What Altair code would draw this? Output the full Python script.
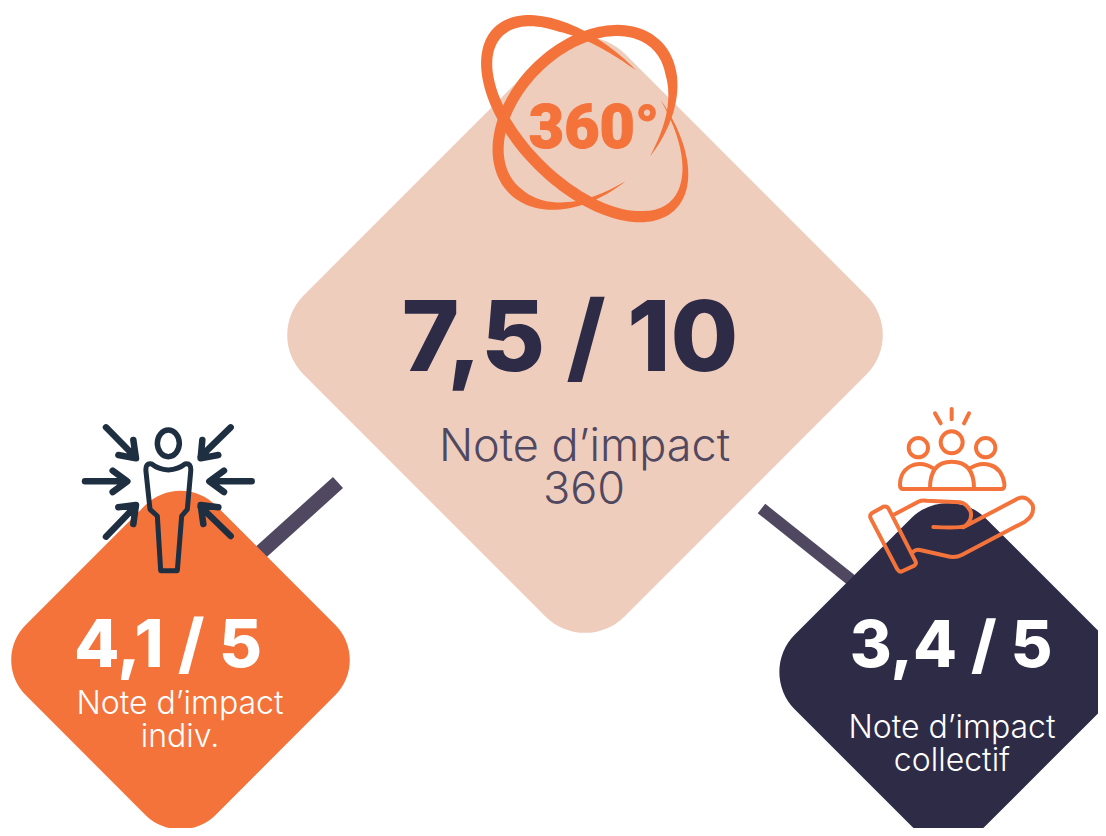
import math
import altair as alt
import pandas as pd

# ---- values -------------------------------------------------------------
scores = ["7,5 / 10", "4,1 / 5", "3,4 / 5"]
label_lines = ["Note d’impact", "360", "Note d’impact", "indiv.", "Note d’impact", "collectif"]
diamond_cx = [585, 180.5, 948.4]
diamond_cy = [335, 660, 672]
conn_x = [338, 240, 761.5, 880]
conn_y = [482.5, 571, 508.5, 603]
conn_id = ["a", "a", "b", "b"]

PINK, ORANGE, NAVY, INK, SLATE = "#EFCDBD", "#F4733B", "#2E2B47", "#1F2F42", "#4F4860"
PLOT_W, PLOT_H = 1090, 820
X = alt.X("x:Q", scale=alt.Scale(domain=[8, 8 + PLOT_W], nice=False, zero=False), axis=None)
Y = alt.Y("y:Q", scale=alt.Scale(domain=[8 + PLOT_H, 8], nice=False, zero=False), axis=None)


def diamond_path(h, r):
    t = r * 0.7071
    return (f"M{-h+t},{-t} L{-t},{-h+t} A{r},{r} 0 0 1 {t},{-h+t} L{h-t},{-t} "
            f"A{r},{r} 0 0 1 {h-t},{t} L{t},{h-t} A{r},{r} 0 0 1 {-t},{h-t} "
            f"L{-h+t},{t} A{r},{r} 0 0 1 {-h+t},{-t} Z")


def orbit(cx, cy, a, b, rot, t0, t1, w, ramp0, ramp1):
    """Outline of a tilted ring whose two ends taper to a point."""
    phi = math.radians(rot)
    ux, uy = math.cos(phi), math.sin(phi)
    vx, vy = -uy, ux
    n = 140
    outer, inner = [], []
    for i in range(n + 1):
        deg = t0 + (t1 - t0) * i / n
        t = math.radians(deg)
        d0, d1 = abs(deg - t0), abs(t1 - deg)
        th = w * min(1, (d0 / ramp0) ** 0.8, (d1 / ramp1) ** 0.8)
        ca, sa = math.cos(t), math.sin(t)
        outer.append((cx + a * ca * ux + b * sa * vx, cy + a * ca * uy + b * sa * vy))
        aa, bb = a - th, b - th
        inner.append((cx + aa * ca * ux + bb * sa * vx, cy + aa * ca * uy + bb * sa * vy))
    pts = outer + inner[::-1]
    return "M" + " L".join(f"{x:.1f},{y:.1f}" for x, y in pts) + " Z"


def at(x, y):
    return alt.Chart(pd.DataFrame({"x": [x], "y": [y]}))


def glyph(path, ox, oy, color, sw=None, fill=False):
    size = (2 / 3) ** 2   # artwork is drawn at 3x
    if fill:
        m = at(ox, oy).mark_point(shape=path, size=size, filled=True, fill=color, opacity=1, strokeWidth=0)
    else:
        m = at(ox, oy).mark_point(shape=path, size=size, filled=False, stroke=color, strokeWidth=sw,
                                  opacity=1, strokeCap="round", strokeJoin="round")
    return m.encode(x=X, y=Y)


def diamond(i, h, r, color):
    return at(diamond_cx[i], diamond_cy[i]).mark_point(
        shape=diamond_path(h, r), size=4, filled=True, fill=color, opacity=1, strokeWidth=0
    ).encode(x=X, y=Y)


def text(s, x, y, size, color, weight=400, font="Inter", **kw):
    return at(x, y).mark_text(text=s, fontSize=size, color=color, fontWeight=weight, font=font,
                              align="center", baseline="alphabetic", **kw).encode(x=X, y=Y)


conn = pd.DataFrame({"x": conn_x, "y": conn_y, "id": conn_id})
connectors = [
    alt.Chart(conn[conn.id == "a"]).mark_line(color=SLATE, strokeWidth=15, strokeCap="butt").encode(x=X, y=Y, order="x:Q"),
    alt.Chart(conn[conn.id == "b"]).mark_line(color=SLATE, strokeWidth=12, strokeCap="butt").encode(x=X, y=Y, order="x:Q"),
]

orbit1 = orbit(374, 356, 385, 212, 45, -89, -431.6, 35, 45, 95)
orbit2 = orbit(375, 352, 322, 224, -45, 80, -261, 34, 55, 75)

head = "M262,100 A33,40 0 1 1 328,100 A33,40 0 1 1 262,100 Z"
body = ("M295,180 Q265,178 245,162 Q225,158 228,185 L240,298 L262,318 L272,482 L322,482 L335,318 "
        "L352,298 L362,185 Q365,158 345,162 Q325,178 295,180 Z")
arrows = ("M108,52 L195,140 M190,90 L198,145 L145,135 "
          "M482,52 L392,140 M397,90 L392,145 L445,135 "
          "M45,214 L170,214 M128,182 L172,214 L128,246 "
          "M545,214 L420,214 M462,182 L418,214 L462,246 "
          "M108,380 L195,290 M145,292 L198,285 L190,342 "
          "M482,378 L392,290 M445,292 L392,285 L400,342")


def circ(cx, cy, r):
    return f"M{cx-r},{cy} A{r},{r} 0 1 1 {cx+r},{cy} A{r},{r} 0 1 1 {cx-r},{cy} Z"


people = (circ(605,127,33) + " " + circ(505,143,29) + " " + circ(707,143,29) +
          " M605,27 L605,58 M555,40 L572,70 M657,40 L642,70"
          " M540,265 Q540,185 605,185 Q672,185 672,265"
          " M550,205 Q520,185 490,195 Q450,210 450,255 Q450,267 460,267 L755,267 Q765,267 763,250"
          " Q755,205 720,195 Q690,185 660,205")
hand = ("M365,340 L400,320 Q412,317 417,328 L497,485 Q500,492 493,497 L458,513 Q448,518 442,508 "
        "L362,355 Q358,346 365,340 Z "
        "M430,345 L505,305 Q515,300 530,302 L630,307 Q650,310 662,335 Q668,360 645,378 Q630,385 550,381 "
        "M640,382 L805,295 Q830,285 848,315 Q855,345 825,365 L635,465 Q615,475 590,468 L510,450 Q500,447 490,455")

layers = connectors + [
    diamond(0, 321, 56, PINK),
    diamond(1, 190, 50, ORANGE),
    diamond(2, 191, 53, NAVY),
    glyph(orbit1, 460, 0, ORANGE, fill=True),
    glyph(orbit2, 460, 0, ORANGE, fill=True),
    text("360°", 594, 148, 61, ORANGE, 900, "Roboto", stroke=ORANGE, strokeWidth=1),
    text(scores[0], 570, 371, 98, NAVY, 800),
    text(label_lines[0], 584.5, 461, 45, SLATE, 300),
    text(label_lines[1], 584, 504, 45, SLATE, 300),
    text(scores[1], 168, 667, 66, "#FFFFFF", 800),
    text(label_lines[2], 180, 714, 32, "#FFFFFF", 300),
    text(label_lines[3], 180, 747, 32, "#FFFFFF", 300),
    text(scores[2], 951, 667, 64, "#FFFFFF", 800),
    text(label_lines[4], 952, 738, 32, "#FFFFFF", 300),
    text(label_lines[5], 952, 771, 32, "#FFFFFF", 300),
    glyph(head, 70, 410, INK, 5.5),
    glyph(body, 70, 410, INK, 5),
    glyph(arrows, 70, 410, INK, 6.5),
    glyph(people, 750, 400, ORANGE, 4),
    glyph(hand, 750, 400, ORANGE, 4),
]

chart = alt.layer(*layers).properties(
    width=PLOT_W, height=PLOT_H, padding=0, background="#FFFFFF",
    autosize=alt.AutoSizeParams(type="none"),
).configure_view(stroke=None)

chart.save("out.html", embed_options={"renderer": "svg", "actions": False})
